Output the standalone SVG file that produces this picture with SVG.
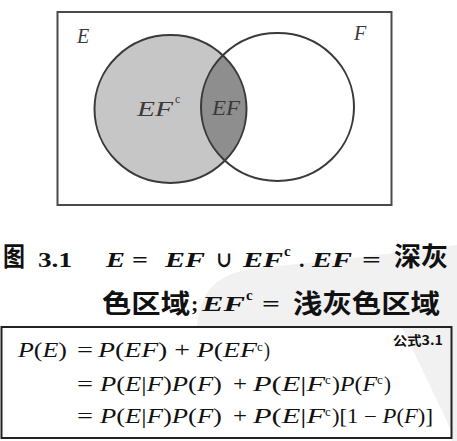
<svg xmlns="http://www.w3.org/2000/svg" width="457" height="441" viewBox="0 0 457 441">
<style>
  .frame{fill:none;stroke:#4a4a4a;stroke-width:2}
  .ring{stroke:#3a3a3a;stroke-width:2}
  .vl{font-family:"Liberation Serif","DejaVu Serif",serif;font-style:italic;font-size:20px;fill:#3a3a3a}
  .vs{font-family:"Liberation Serif","DejaVu Serif",serif;font-size:12px;fill:#3a3a3a}
  .cap{font-family:"Liberation Serif","DejaVu Serif",serif;font-weight:bold;font-size:22px;fill:#111}
  .capi{font-family:"Liberation Serif","DejaVu Serif",serif;font-weight:bold;font-style:italic;font-size:22px;fill:#111}
  .capc{font-family:"Liberation Serif","DejaVu Serif",serif;font-weight:bold;font-size:15px;fill:#111}
  .cup{font-family:"DejaVu Serif",serif;font-weight:bold;font-size:22px;fill:#111}
  .cj{font-family:"Noto Sans CJK SC","Noto Sans CJK JP",sans-serif;font-weight:bold;font-size:26px;fill:#111}
  .m{font-family:"Liberation Serif","DejaVu Serif",serif;font-size:20px;fill:#111}
  .it{font-style:italic}
  .sup{font-family:"Liberation Serif","DejaVu Serif",serif;font-size:13px;fill:#111}
  .tag{font-family:"Noto Sans CJK SC",sans-serif;font-weight:bold;font-size:13px;fill:#111}
</style>
<defs>
  <clipPath id="clipF"><ellipse cx="277.5" cy="107" rx="76.5" ry="74"/></clipPath>
</defs>
<path d="M197,327 C200,292 215,273 258,268 Q360,258 457,245 V441 H452 V432 L402,327 Z" fill="#f1f1f1"/>
<g id="universe">
  <rect class="frame" x="57.5" y="12" width="334" height="193"/>
  <text class="vl" x="77" y="43">E</text>
  <text class="vl" x="354" y="40">F</text>
</g>
<g id="setE">
  <ellipse cx="170.5" cy="109" rx="76" ry="74" fill="#c6c6c6"/>
</g>
<g id="intersectionEF">
  <ellipse cx="170.5" cy="109" rx="76" ry="74" fill="#8e8e8e" clip-path="url(#clipF)"/>
</g>
<g id="outlines">
  <ellipse class="ring" cx="170.5" cy="109" rx="76" ry="74" fill="none"/>
  <ellipse class="ring" cx="277.5" cy="107" rx="76.5" ry="74" fill="none"/>
</g>
<g id="labels">
  <text class="vl" x="137" y="116" textLength="36" lengthAdjust="spacingAndGlyphs">EF</text>
  <text class="vs" x="175" y="103">c</text>
  <text class="vl" x="212" y="115" textLength="28" lengthAdjust="spacingAndGlyphs">EF</text>
</g>
<g id="caption">
  <text class="cj" x="3" y="266" textLength="22" lengthAdjust="spacingAndGlyphs">图</text>
  <text class="cap" x="38" y="267" textLength="34" lengthAdjust="spacingAndGlyphs">3.1</text>
  <text class="capi" x="106" y="267" textLength="19" lengthAdjust="spacingAndGlyphs">E</text>
  <text class="cap" x="132" y="267" textLength="16" lengthAdjust="spacingAndGlyphs">=</text>
  <text class="capi" x="165" y="267" textLength="40" lengthAdjust="spacingAndGlyphs">EF</text>
  <text class="cup" x="216" y="267" textLength="16" lengthAdjust="spacingAndGlyphs">∪</text>
  <text class="capi" x="243" y="267" textLength="40" lengthAdjust="spacingAndGlyphs">EF</text>
  <text class="capc" x="284" y="256">c</text>
  <text class="cap" x="299" y="267">.</text>
  <text class="capi" x="312" y="267" textLength="40" lengthAdjust="spacingAndGlyphs">EF</text>
  <text class="cap" x="362" y="267" textLength="19" lengthAdjust="spacingAndGlyphs">=</text>
  <text class="cj" x="394" y="266" textLength="54" lengthAdjust="spacingAndGlyphs">深灰</text>

  <text class="cj" x="102" y="313" textLength="88" lengthAdjust="spacingAndGlyphs">色区域</text>
  <text class="cap" x="191" y="311">;</text>
  <text class="capi" x="202" y="311" textLength="43" lengthAdjust="spacingAndGlyphs">EF</text>
  <text class="capc" x="246" y="300">c</text>
  <text class="cap" x="262" y="311" textLength="18" lengthAdjust="spacingAndGlyphs">=</text>
  <text class="cj" x="293" y="313" textLength="147" lengthAdjust="spacingAndGlyphs">浅灰色区域</text>
</g>
<g id="formula">
  <rect x="1.5" y="327" width="450" height="111" fill="none" stroke="#222" stroke-width="2"/>
  <text class="tag" x="393" y="345" textLength="50" lengthAdjust="spacingAndGlyphs">公式3.1</text>

  <text class="m" x="18" y="357" textLength="49" lengthAdjust="spacingAndGlyphs"><tspan class="it">P</tspan>(<tspan class="it">E</tspan>)</text>
  <text class="m" x="77" y="357" textLength="16" lengthAdjust="spacingAndGlyphs">=</text>
  <text class="m" x="98" y="357" textLength="159" lengthAdjust="spacingAndGlyphs"><tspan class="it">P</tspan>(<tspan class="it">EF</tspan>) + <tspan class="it">P</tspan>(<tspan class="it">EF</tspan></text>
  <text class="sup" x="257" y="351">c</text>
  <text class="m" x="264" y="357" textLength="6" lengthAdjust="spacingAndGlyphs">)</text>

  <text class="m" x="77" y="391" textLength="16" lengthAdjust="spacingAndGlyphs">=</text>
  <text class="m" x="100" y="391" textLength="122" lengthAdjust="spacingAndGlyphs"><tspan class="it">P</tspan>(<tspan class="it">E</tspan>|<tspan class="it">F</tspan>)<tspan class="it">P</tspan>(<tspan class="it">F</tspan>)</text>
  <text class="m" x="233" y="391" textLength="14" lengthAdjust="spacingAndGlyphs">+</text>
  <text class="m" x="253" y="391" textLength="72" lengthAdjust="spacingAndGlyphs"><tspan class="it">P</tspan>(<tspan class="it">E</tspan>|<tspan class="it">F</tspan></text>
  <text class="sup" x="325" y="384">c</text>
  <text class="m" x="332" y="391" textLength="45" lengthAdjust="spacingAndGlyphs">)<tspan class="it">P</tspan>(<tspan class="it">F</tspan></text>
  <text class="sup" x="377" y="384">c</text>
  <text class="m" x="384" y="391" textLength="7" lengthAdjust="spacingAndGlyphs">)</text>

  <text class="m" x="77" y="423" textLength="16" lengthAdjust="spacingAndGlyphs">=</text>
  <text class="m" x="100" y="423" textLength="122" lengthAdjust="spacingAndGlyphs"><tspan class="it">P</tspan>(<tspan class="it">E</tspan>|<tspan class="it">F</tspan>)<tspan class="it">P</tspan>(<tspan class="it">F</tspan>)</text>
  <text class="m" x="233" y="423" textLength="14" lengthAdjust="spacingAndGlyphs">+</text>
  <text class="m" x="253" y="423" textLength="72" lengthAdjust="spacingAndGlyphs"><tspan class="it">P</tspan>(<tspan class="it">E</tspan>|<tspan class="it">F</tspan></text>
  <text class="sup" x="325" y="416">c</text>
  <text class="m" x="332" y="423" textLength="101" lengthAdjust="spacingAndGlyphs">)[1 − <tspan class="it">P</tspan>(<tspan class="it">F</tspan>)]</text>
</g>
</svg>
